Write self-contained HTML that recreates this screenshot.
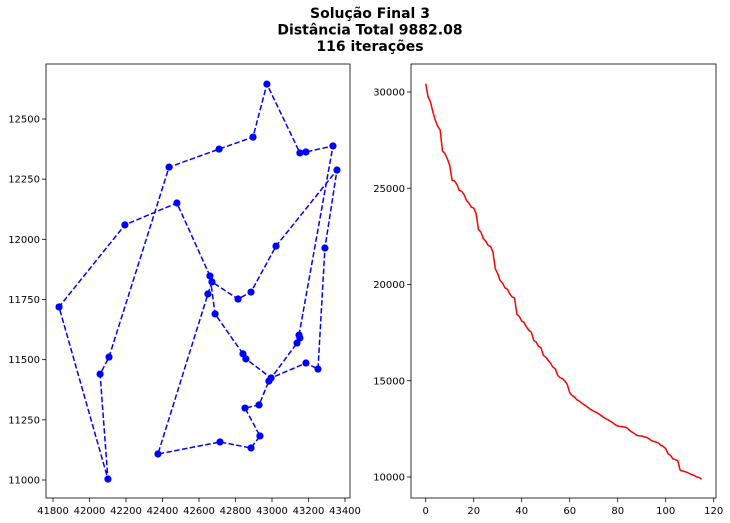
<!DOCTYPE html>
<html><head><meta charset="utf-8"><style>
body{margin:0;background:#fff;}
svg{display:block;font-family:"DejaVu Sans","Liberation Sans",sans-serif;}
</style></head><body>
<svg id="fig" width="730" height="523">
<text x="370" y="18" text-anchor="middle" font-size="14" font-weight="bold">Solução Final 3</text>
<text x="370" y="34.5" text-anchor="middle" font-size="14" font-weight="bold">Distância Total 9882.08</text>
<text x="370" y="51" text-anchor="middle" font-size="14" font-weight="bold">116 iterações</text>
<g id="left"></g>
<g id="right"></g>
</svg>
<script>
const routeX=[42660,42479,42194,41833,42101,42058,42107,42436,42710,42896,42972,43153,43186,43334,43148,43153,43137,42983,42929,42852,42934,42885,42715,42375,42649,42671,42814,42885,43022,43356,43290,43252,43186,42995,42857,42841,42688];
const routeY=[11848,12151,12060,11719,11004,11440,11511,12300,12375,12425,12645,12359,12363,12388,11602,11590,11569,11411,11312,11299,11183,11133,11158,11108,11773,11823,11752,11781,11972,12288,11964,11461,11486,11424,11503,11524,11690];
const xTicksL=[41800,42000,42200,42400,42600,42800,43000,43200,43400];
const yTicksL=[11000,11250,11500,11750,12000,12250,12500];
const dist=[30433,29740,29480,28960,28530,28220,28040,26930,26800,26540,26190,25410,25380,25200,24890,24840,24670,24370,24230,24020,23970,23680,22850,22730,22380,22260,22030,21980,21690,20820,20560,20210,20080,19830,19760,19520,19350,19310,18450,18340,18100,18030,17790,17620,17530,17100,17010,16790,16720,16320,16230,16060,15920,15710,15620,15280,15160,15110,14980,14810,14380,14240,14150,14010,13940,13840,13750,13670,13580,13490,13420,13360,13290,13200,13110,13030,12970,12890,12820,12710,12650,12630,12610,12590,12540,12420,12330,12250,12160,12140,12130,12090,12060,11990,11900,11850,11820,11760,11640,11590,11470,11210,11120,10950,10900,10860,10360,10310,10280,10240,10170,10120,10070,10000,9970,9890];
const xTicksR=[0,20,40,60,80,100,120];
const yTicksR=[10000,15000,20000,25000,30000];
const NS='http://www.w3.org/2000/svg';
function mk(p,t,a){const e=document.createElementNS(NS,t);for(const k in a)e.setAttribute(k,a[k]);p.appendChild(e);return e;}
function axes(g,box,sx,sy,xt,yt,nm){
  for(const v of xt){const x=sx(v);
    const t=mk(g,'line',{x1:x,x2:x,y1:box[3],y2:box[3]+4,stroke:'#000','stroke-width':0.8});
    
    const l=mk(g,'text',{x:x,y:box[3]+16,'text-anchor':'middle','font-size':10});l.textContent=v;
    }
  for(const v of yt){const y=sy(v);
    const t=mk(g,'line',{x1:box[0]-4,x2:box[0],y1:y,y2:y,stroke:'#000','stroke-width':0.8});
    
    const l=mk(g,'text',{x:box[0]-6,y:y+3.5,'text-anchor':'end','font-size':10});l.textContent=v;
    }
  const f=mk(g,'rect',{x:box[0],y:box[1],width:box[2]-box[0],height:box[3]-box[1],fill:'none',stroke:'#000','stroke-width':0.8});
  
}
const L=document.getElementById('left');
const boxL=[46,64,350,498];
const sxL=v=>53+(v-41800)*292/1600, syL=v=>480-(v-11000)*361/1500;
const pts=routeX.map((x,i)=>sxL(x)+','+syL(routeY[i]));pts.push(pts[0]);
const path=mk(L,'polyline',{points:pts.join(' '),fill:'none',stroke:'#0000ff','stroke-width':1.5,'stroke-dasharray':'5.5,2.4'});

routeX.forEach((x,i)=>{const c=mk(L,'circle',{cx:sxL(x),cy:syL(routeY[i]),r:3.6,fill:'#0000ff'});
  });
axes(L,boxL,sxL,syL,xTicksL,yTicksL,'route');
const R=document.getElementById('right');
const boxR=[411,64,716,498];
const sxR=v=>425.7+v*2.4, syR=v=>92-(v-30000)*385/20000;
const ln=mk(R,'polyline',{points:dist.map((d,i)=>sxR(i)+','+syR(d)).join(' '),fill:'none',stroke:'#ff0000','stroke-width':1.5});

axes(R,boxR,sxR,syR,xTicksR,yTicksR,'distance');
</script>
</body></html>
